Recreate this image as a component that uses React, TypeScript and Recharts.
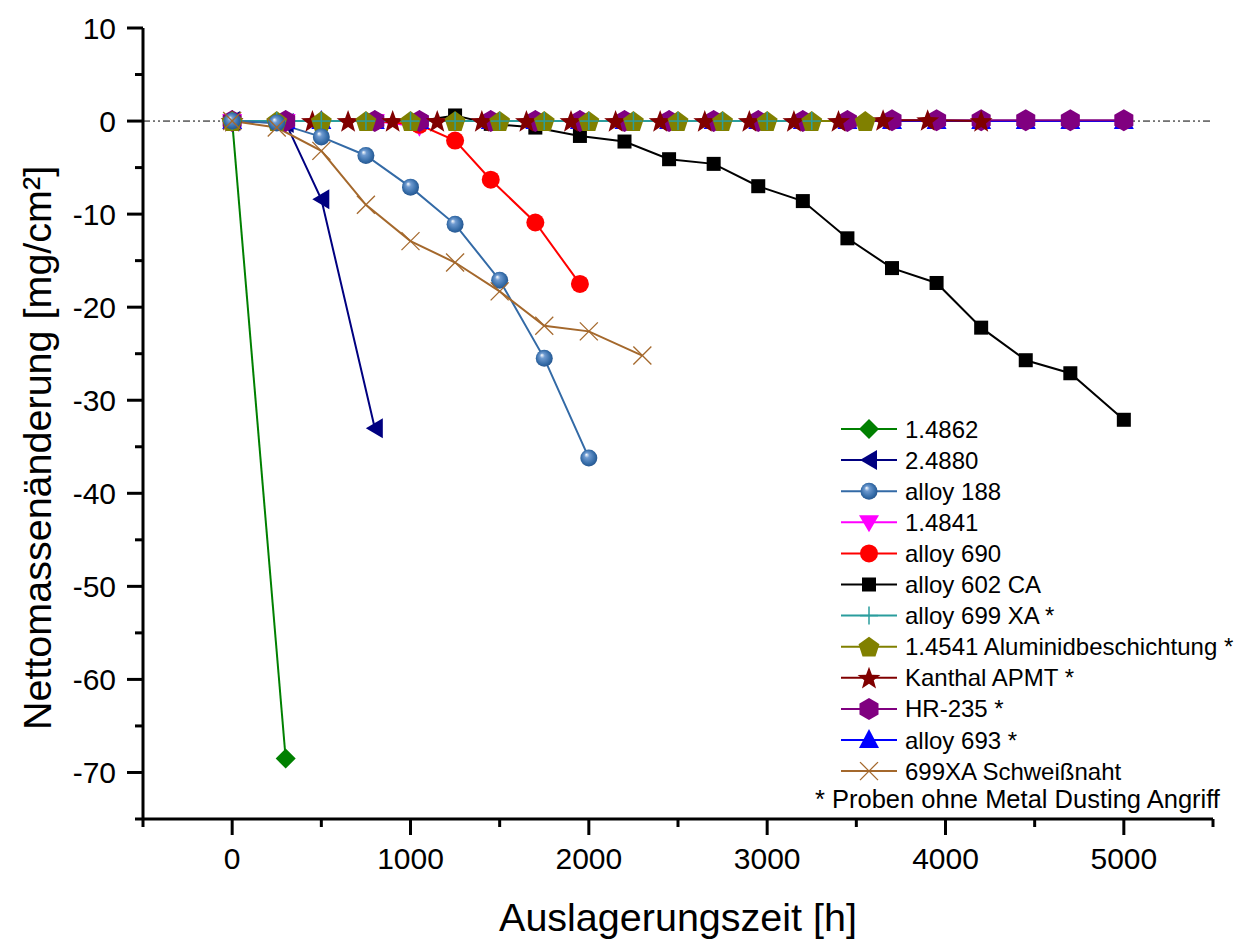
import React from "react";
import { Legend, Line, LineChart, ReferenceLine, XAxis, YAxis } from "recharts";

// Auslagerungszeit [h] und Nettomassenänderung [mg/cm²] je Werkstoff
const t14862 = [0, 300];
const v14862 = [0, -68.5];

const t24880 = [0, 300, 500, 800];
const v24880 = [0, -0.2, -8.4, -33.0];

const tAlloy188 = [0, 250, 500, 750, 1000, 1250, 1500, 1750, 2000];
const vAlloy188 = [0, -0.2, -1.7, -3.7, -7.1, -11.1, -17.1, -25.5, -36.2];

const t14841 = [0, 300, 800, 1050];
const v14841 = [0, 0, 0, -0.6];

const tAlloy690 = [0, 300, 800, 1050, 1250, 1450, 1700, 1950];
const vAlloy690 = [0, 0, 0, -0.4, -2.1, -6.3, -10.9, -17.5];

const tAlloy602 = [0, 300, 800, 1050, 1250, 1450, 1700, 1950, 2200, 2450, 2700, 2950, 3200, 3450, 3700, 3950, 4200, 4450, 4700, 5000];
const vAlloy602 = [0, 0, 0, 0, 0.6, -0.3, -0.7, -1.6, -2.2, -4.1, -4.6, -7.0, -8.6, -12.6, -15.8, -17.4, -22.2, -25.7, -27.1, -32.1];

const tAlloy699 = [0, 250, 500, 750, 1000, 1250, 1500, 1750, 2000, 2250, 2500, 2750, 3000, 3250];
const vAlloy699 = [0, 0, 0, 0, 0, 0, 0, 0, 0, 0, 0, 0, 0, 0];

const t14541 = [0, 250, 500, 750, 1000, 1250, 1500, 1750, 2000, 2250, 2500, 2750, 3000, 3250, 3550];
const v14541 = [0, 0, 0, 0, 0, 0, 0, 0, 0, 0, 0, 0, 0, 0, 0];

const tKanthal = [0, 450, 650, 900, 1150, 1400, 1650, 1900, 2150, 2400, 2650, 2900, 3150, 3400, 3650, 3900, 4200];
const vKanthal = [0, 0, 0, 0, 0, 0, 0, 0, 0, 0, 0, 0, 0, 0, 0.1, 0.1, 0];

const tHR235 = [0, 300, 800, 1050, 1450, 1700, 1950, 2200, 2450, 2700, 2950, 3200, 3450, 3700, 3950, 4200, 4450, 4700, 5000];
const vHR235 = [0, 0, 0, 0, 0, 0, 0, 0, 0, 0, 0, 0, 0, 0.1, 0.1, 0.1, 0.1, 0.1, 0.1];

const tAlloy693 = [0, 300, 500, 800, 1050, 1450, 1700, 1950, 2200, 2450, 2700, 2950, 3200, 3450, 3700, 3950, 4200, 4450, 4700, 5000];
const vAlloy693 = [0, 0, 0, 0, 0, 0, 0, 0, 0, 0, 0, 0, 0, 0, 0, 0, 0, 0, 0, 0];

const tWeld = [0, 250, 500, 750, 1000, 1250, 1500, 1750, 2000, 2300];
const vWeld = [0, -0.7, -3.2, -9.0, -12.9, -15.2, -18.3, -22.0, -22.6, -25.2];

const xTicks = [-500, 0, 500, 1000, 1500, 2000, 2500, 3000, 3500, 4000, 4500, 5000, 5500];
const yTicks = [-75, -70, -65, -60, -55, -50, -45, -40, -35, -30, -25, -20, -15, -10, -5, 0, 5, 10];

// plot order differs from legend order (which series sits on top near y = 0)
const drawOrder = [0, 1, 3, 4, 5, 10, 9, 8, 7, 6, 2, 11];

const FONT = "'Liberation Sans', Arial, sans-serif";

type Shape =
  | "diamond"
  | "triLeft"
  | "sphere"
  | "triDown"
  | "circle"
  | "square"
  | "plus"
  | "pentagon"
  | "star"
  | "hexagon"
  | "triUp"
  | "cross";

const zip = (t: number[], v: number[]) => t.map((x, i) => ({ x, y: v[i] }));

const series: { name: string; color: string; shape: Shape; data: { x: number; y: number }[] }[] = [
  { name: "1.4862", color: "#008000", shape: "diamond", data: zip(t14862, v14862) },
  { name: "2.4880", color: "#000080", shape: "triLeft", data: zip(t24880, v24880) },
  { name: "alloy 188", color: "#336aa6", shape: "sphere", data: zip(tAlloy188, vAlloy188) },
  { name: "1.4841", color: "#ff00ff", shape: "triDown", data: zip(t14841, v14841) },
  { name: "alloy 690", color: "#ff0000", shape: "circle", data: zip(tAlloy690, vAlloy690) },
  { name: "alloy 602 CA", color: "#000000", shape: "square", data: zip(tAlloy602, vAlloy602) },
  { name: "alloy 699 XA *", color: "#2a9d9d", shape: "plus", data: zip(tAlloy699, vAlloy699) },
  { name: "1.4541 Aluminidbeschichtung *", color: "#808000", shape: "pentagon", data: zip(t14541, v14541) },
  { name: "Kanthal APMT *", color: "#800000", shape: "star", data: zip(tKanthal, vKanthal) },
  { name: "HR-235 *", color: "#800080", shape: "hexagon", data: zip(tHR235, vHR235) },
  { name: "alloy 693 *", color: "#0000ff", shape: "triUp", data: zip(tAlloy693, vAlloy693) },
  { name: "699XA Schweißnaht", color: "#a4682c", shape: "cross", data: zip(tWeld, vWeld) },
];

function poly(cx: number, cy: number, n: number, r: number, rot: number) {
  const pts: string[] = [];
  for (let i = 0; i < n; i++) {
    const a = rot + (i * 2 * Math.PI) / n;
    pts.push(`${cx + r * Math.cos(a)},${cy + r * Math.sin(a)}`);
  }
  return pts.join(" ");
}

function starPts(cx: number, cy: number, ro: number, ri: number) {
  const pts: string[] = [];
  for (let i = 0; i < 10; i++) {
    const r = i % 2 === 0 ? ro : ri;
    const a = -Math.PI / 2 + (i * Math.PI) / 5;
    pts.push(`${cx + r * Math.cos(a)},${cy + r * Math.sin(a)}`);
  }
  return pts.join(" ");
}

function Marker({ shape, cx, cy, color }: { shape: Shape; cx: number; cy: number; color: string }) {
  switch (shape) {
    case "diamond":
      return <polygon points={`${cx},${cy - 10} ${cx + 10},${cy} ${cx},${cy + 10} ${cx - 10},${cy}`} fill={color} />;
    case "triLeft":
      return <polygon points={`${cx - 9},${cy} ${cx + 8},${cy - 10} ${cx + 8},${cy + 10}`} fill={color} />;
    case "sphere":
      return (
        <g>
          <defs>
            <radialGradient id="sph188" cx="0.5" cy="0.5" r="0.6" fx="0.35" fy="0.3">
              <stop offset="0%" stopColor="#ffffff" />
              <stop offset="25%" stopColor="#6e9ad0" />
              <stop offset="70%" stopColor="#336aa6" />
              <stop offset="100%" stopColor="#1f4a80" />
            </radialGradient>
          </defs>
          <circle cx={cx} cy={cy} r={8.5} fill="url(#sph188)" />
        </g>
      );
    case "triDown":
      return <polygon points={`${cx - 10},${cy - 7} ${cx + 10},${cy - 7} ${cx},${cy + 10}`} fill={color} />;
    case "circle":
      return <circle cx={cx} cy={cy} r={9} fill={color} />;
    case "square":
      return <rect x={cx - 7} y={cy - 7} width={14} height={14} fill={color} />;
    case "plus":
      return (
        <g stroke={color} strokeWidth={1.5}>
          <line x1={cx} y1={cy - 9} x2={cx} y2={cy + 9} />
          <line x1={cx - 9} y1={cy} x2={cx + 9} y2={cy} />
        </g>
      );
    case "pentagon":
      return <polygon points={poly(cx, cy + 1, 5, 11, -Math.PI / 2)} fill={color} />;
    case "star":
      return <polygon points={starPts(cx, cy + 1, 12, 5)} fill={color} />;
    case "hexagon":
      return <polygon points={poly(cx, cy, 6, 11, -Math.PI / 2)} fill={color} />;
    case "triUp":
      return <polygon points={`${cx - 10},${cy + 8} ${cx + 10},${cy + 8} ${cx},${cy - 11}`} fill={color} />;
    case "cross":
      return (
        <g stroke={color} strokeWidth={1.3}>
          <line x1={cx - 9} y1={cy - 9} x2={cx + 9} y2={cy + 9} />
          <line x1={cx - 9} y1={cy + 9} x2={cx + 9} y2={cy - 9} />
        </g>
      );
  }
  return null;
}

const XTick = (props: any) => {
  const { x, y, payload } = props;
  const v = payload.value as number;
  const major = v % 1000 === 0 && v >= 0 && v <= 5000;
  return (
    <g>
      <line x1={x} x2={x} y1={y} y2={y + (major ? 16 : 8)} stroke="#000" strokeWidth={3} />
      {major && (
        <text x={x} y={y + 50} textAnchor="middle" fontSize={30} fontFamily={FONT} fill="#000">
          {v}
        </text>
      )}
    </g>
  );
};

const YTick = (props: any) => {
  const { x, y, payload } = props;
  const v = payload.value as number;
  const major = v % 10 === 0;
  return (
    <g>
      <line x1={x - (major ? 16 : 8)} x2={x} y1={y} y2={y} stroke="#000" strokeWidth={3} />
      {major && (
        <text x={x - 27} y={y + 11} textAnchor="end" fontSize={30} fontFamily={FONT} fill="#000">
          {v}
        </text>
      )}
    </g>
  );
};

const LegendBox = () => (
  <svg width={431} height={410} style={{ overflow: "visible" }}>
    {series.map((s, i) => {
      const cy = 19 + i * 31.1;
      return (
        <g key={s.name}>
          <line x1={31} x2={87} y1={cy} y2={cy} stroke={s.color} strokeWidth={2} />
          <Marker shape={s.shape} cx={59} cy={cy} color={s.color} />
          <text x={95} y={cy + 8.5} fontSize={24} fontFamily={FONT} fill="#000">
            {s.name}
          </text>
        </g>
      );
    })}
    <text x={5} y={398} fontSize={25.5} fontFamily={FONT} fill="#000">
      * Proben ohne Metal Dusting Angriff
    </text>
  </svg>
);

export default function App() {
  return (
    <div style={{ position: "absolute", left: 0, top: 0, background: "#fff" }}>
      <LineChart width={1241} height={939} margin={{ top: 28, right: 28, left: 0, bottom: 0 }}>
        <XAxis
          type="number"
          dataKey="x"
          domain={[-500, 5500]}
          ticks={xTicks}
          interval={0}
          height={120}
          tickSize={0}
          tickMargin={0}
          tickLine={false}
          tick={<XTick />}
          axisLine={{ stroke: "#000", strokeWidth: 3 }}
          allowDataOverflow
          label={{
            content: () => (
              <text x={678} y={931} textAnchor="middle" fontSize={39.5} fontFamily={FONT} fill="#000">
                Auslagerungszeit [h]
              </text>
            ),
          }}
        />
        <YAxis
          type="number"
          dataKey="y"
          domain={[-75, 10]}
          ticks={yTicks}
          interval={0}
          width={143}
          tickSize={0}
          tickMargin={0}
          tickLine={false}
          tick={<YTick />}
          axisLine={{ stroke: "#000", strokeWidth: 3 }}
          allowDataOverflow
          label={{
            content: () => (
              <text
                x={51}
                y={448}
                transform="rotate(-90 51 448)"
                textAnchor="middle"
                fontSize={39.5}
                fontFamily={FONT}
                fill="#000"
              >
                Nettomassenänderung [mg/cm²]
              </text>
            ),
          }}
        />
        <ReferenceLine y={0} stroke="#000" strokeWidth={1} strokeDasharray="7 3 2 3 2 3" />
        {drawOrder.map((idx) => {
          const s = series[idx];
          return (
            <Line
              key={s.name}
              data={s.data}
              dataKey="y"
              name={s.name}
              type="linear"
              stroke={s.color}
              strokeWidth={2}
              isAnimationActive={false}
              dot={(p: any) => <Marker key={`${s.name}-${p.index}`} shape={s.shape} cx={p.cx} cy={p.cy} color={s.color} />}
              activeDot={false}
            />
          );
        })}
        <Legend
          layout="vertical"
          align="center"
          verticalAlign="middle"
          content={() => <LegendBox />}
          wrapperStyle={{ position: "absolute", left: 810, top: 410, width: 431, height: 410 }}
        />
      </LineChart>
    </div>
  );
}
